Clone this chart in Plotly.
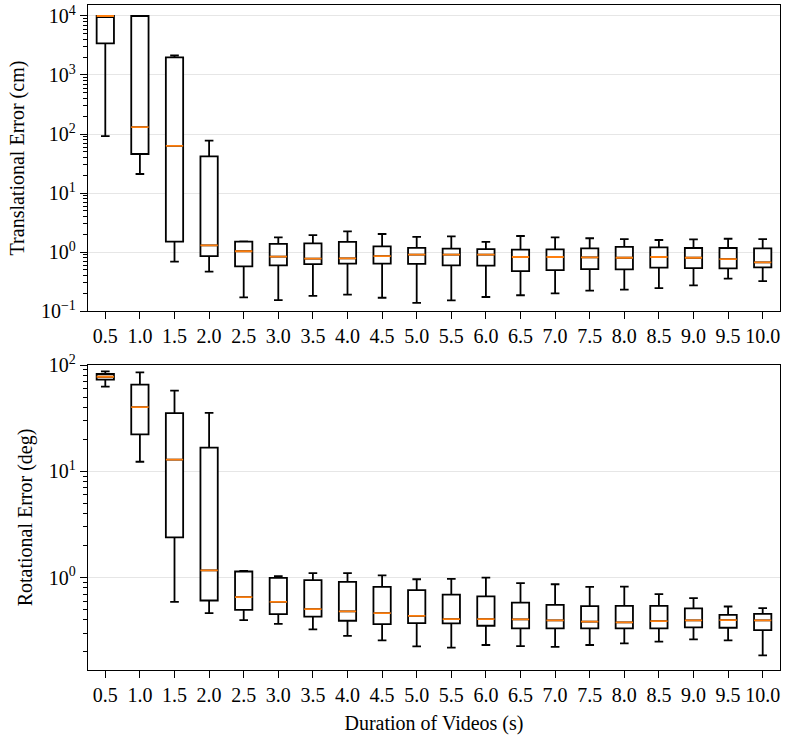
import plotly.graph_objects as go

# Duration of videos (s) -- one box per duration
durations = [0.5, 1.0, 1.5, 2.0, 2.5, 3.0, 3.5, 4.0, 4.5, 5.0,
             5.5, 6.0, 6.5, 7.0, 7.5, 8.0, 8.5, 9.0, 9.5, 10.0]
tick_labels = [f"{d:.1f}" for d in durations]

# Translational error (cm): box statistics
trans_lower = [92, 21, 0.686, 0.464, 0.171, 0.153, 0.18, 0.19, 0.168, 0.138,
               0.152, 0.173, 0.185, 0.199, 0.221, 0.23, 0.245, 0.272, 0.353, 0.322]
trans_q1 = [3440, 45.8, 1.50, 0.855, 0.571, 0.594, 0.626, 0.634, 0.634, 0.63,
            0.594, 0.586, 0.476, 0.495, 0.515, 0.508, 0.542, 0.535, 0.528, 0.55]
trans_median = [10000, 131, 62.7, 1.30, 1.03, 0.834, 0.77, 0.78, 0.855, 0.90,
                0.90, 0.90, 0.823, 0.823, 0.812, 0.80, 0.823, 0.80, 0.76, 0.668]
trans_q3 = [10000, 10000, 1995, 41.8, 1.50, 1.37, 1.40, 1.48, 1.25, 1.18,
            1.14, 1.12, 1.10, 1.11, 1.15, 1.22, 1.20, 1.17, 1.17, 1.15]
trans_upper = [10000, 10000, 2150, 77, 1.52, 1.77, 1.94, 2.24, 2.02, 1.80,
               1.84, 1.48, 1.87, 1.77, 1.71, 1.66, 1.60, 1.64, 1.68, 1.66]

# Rotational error (deg)
rot_lower = [62.6, 12.3, 0.591, 0.462, 0.397, 0.367, 0.325, 0.283, 0.256, 0.225,
             0.219, 0.232, 0.226, 0.223, 0.232, 0.24, 0.249, 0.262, 0.256, 0.185]
rot_q1 = [72.8, 22.3, 2.39, 0.608, 0.497, 0.453, 0.428, 0.392, 0.365, 0.372,
          0.37, 0.352, 0.332, 0.332, 0.332, 0.332, 0.332, 0.34, 0.337, 0.32]
rot_median = [77.6, 40.1, 12.9, 1.17, 0.653, 0.591, 0.505, 0.48, 0.462, 0.436,
              0.406, 0.406, 0.404, 0.395, 0.384, 0.378, 0.389, 0.395, 0.397, 0.395]
rot_q3 = [82.3, 65.3, 35.2, 16.7, 1.14, 0.993, 0.944, 0.91, 0.817, 0.76,
          0.692, 0.664, 0.582, 0.553, 0.538, 0.542, 0.542, 0.512, 0.446, 0.456]
rot_upper = [87.2, 85.3, 57.4, 35.4, 1.156, 1.03, 1.10, 1.10, 1.05, 0.964,
             0.97, 1.0, 0.885, 0.865, 0.817, 0.822, 0.697, 0.64, 0.534, 0.515]

FONT = "Liberation Serif"
ORANGE = "#ff7f0e"
FS = 20


def add_panel(fig, lower, q1, med, q3, upper, xa, ya):
    fig.add_trace(go.Box(
        x=durations, lowerfence=lower, q1=q1, median=med, q3=q3, upperfence=upper,
        boxpoints=False, width=0.25, whiskerwidth=0.5,
        line=dict(color="black", width=1.8), fillcolor="white",
        xaxis=xa, yaxis=ya, showlegend=False, hoverinfo="skip"))
    # orange median: a flat box sitting at the median
    fig.add_trace(go.Box(
        x=durations, lowerfence=med, q1=med, median=med, q3=med, upperfence=med,
        boxpoints=False, width=0.25, whiskerwidth=0,
        line=dict(color=ORANGE, width=1.8), fillcolor="rgba(0,0,0,0)",
        xaxis=xa, yaxis=ya, showlegend=False, hoverinfo="skip"))


def minor_vals(lo_exp, hi_exp):
    return [m * 10 ** e for e in range(lo_exp, hi_exp) for m in range(2, 10)]


fig = go.Figure()
add_panel(fig, trans_lower, trans_q1, trans_median, trans_q3, trans_upper, "x", "y")
add_panel(fig, rot_lower, rot_q1, rot_median, rot_q3, rot_upper, "x2", "y2")

xcommon = dict(range=[0.25, 10.25], tickmode="array", tickvals=durations,
               ticktext=tick_labels, ticks="outside", ticklen=7, tickwidth=1.3,
               tickcolor="black", showline=True, linecolor="black", linewidth=1.3,
               mirror=True, showgrid=False, zeroline=False, automargin=False,
               tickfont=dict(family=FONT, size=FS, color="black"))
ycommon = dict(type="log", ticks="outside", ticklen=7, tickwidth=1.3,
               tickcolor="black", showline=True, linecolor="black", linewidth=1.3,
               mirror=True, showgrid=True, gridcolor="#e6e6e6", gridwidth=1.2,
               zeroline=False, automargin=False,
               tickfont=dict(family=FONT, size=FS, color="black"))

fig.update_layout(
    width=788, height=739,
    margin=dict(l=88, r=8, t=5, b=69),
    paper_bgcolor="white", plot_bgcolor="white",
    boxmode="overlay",
    font=dict(family=FONT, size=FS, color="black"),
    xaxis=dict(xcommon, domain=[0, 1], anchor="y"),
    xaxis2=dict(xcommon, domain=[0, 1], anchor="y2",
                title=dict(text="Duration of Videos (s)", standoff=10,
                           font=dict(family=FONT, size=FS, color="black"))),
    yaxis=dict(ycommon, domain=[0.5398, 1], anchor="x", range=[-1, 4.186],
               tickvals=[0.1, 1, 10, 100, 1000, 10000],
               ticktext=["10<sup>−1</sup>", "10<sup>0</sup>", "10<sup>1</sup>",
                         "10<sup>2</sup>", "10<sup>3</sup>", "10<sup>4</sup>"],
               minor=dict(ticks="outside", ticklen=4, tickwidth=1, tickcolor="black",
                          tickvals=minor_vals(-1, 4), showgrid=False),
               title=dict(text="Translational Error (cm)", standoff=10,
                          font=dict(family=FONT, size=FS, color="black"))),
    yaxis2=dict(ycommon, domain=[0, 0.4586], anchor="x2", range=[-0.87, 2.0],
                tickvals=[1, 10, 100],
                ticktext=["10<sup>0</sup>", "10<sup>1</sup>", "10<sup>2</sup>"],
                minor=dict(ticks="outside", ticklen=4, tickwidth=1, tickcolor="black",
                           tickvals=minor_vals(-1, 2), showgrid=False),
                title=dict(text="Rotational Error (deg)", standoff=10,
                           font=dict(family=FONT, size=FS, color="black"))),
)

# the page body has a default margin; drop it so the figure sits at (0, 0)
fig.write_html("out.html", config={"displayModeBar": False},
               post_script="document.body.style.margin = '0';")
